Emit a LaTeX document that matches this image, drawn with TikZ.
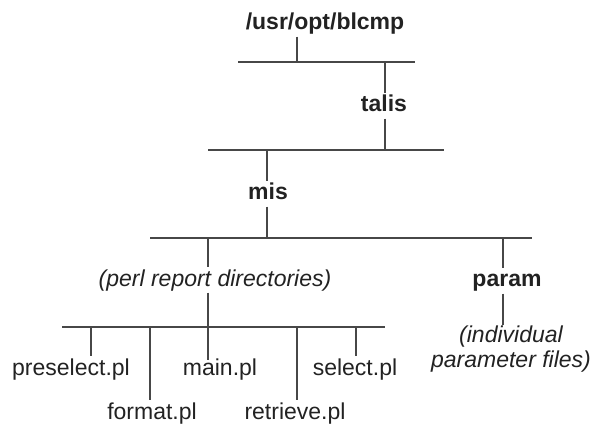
\documentclass[tikz,border=0pt]{standalone}
\usepackage{fontspec}
\setmainfont{Liberation Sans}
\usetikzlibrary{calc}
\definecolor{ctext}{HTML}{222222}
\definecolor{cline}{HTML}{474747}
\tikzset{
  every picture/.style={x=1pt, y=-1pt, line width=1.1pt},
  txt/.style={inner sep=0pt, text=ctext, font=\fontsize{23}{25}\selectfont},
  tag/.style={txt, anchor=base, text height=18pt, text depth=6pt},
  file/.style={tag},
  dirname/.style={tag, font=\fontsize{23}{25}\selectfont\bfseries},
  note/.style={tag, font=\fontsize{23}{25}\selectfont\itshape},
  bar/.style={draw=cline},
  link/.style={draw=cline},
}
\begin{document}
\begin{tikzpicture}
  \useasboundingbox (0,0) rectangle (595,425);
  % directories
  \node[dirname] (usr) at (325,30) {/usr/opt/blcmp};
  \node[dirname] (talis) at (384,112) {talis};
  \node[dirname] (mis) at (268,200) {mis};
  \node[note] (perl) at (215,286) {(perl report directories)};
  \node[dirname] (param) at (507,287) {param};
  \node[txt, font=\fontsize{23}{25}\selectfont\itshape, align=center, anchor=north] (pfiles) at (511,325)
    {(individual\\parameter files)};
  % perl files
  \node[file] (pre) at (71,375) {preselect.pl};
  \node[file] (fmt) at (152,419) {format.pl};
  \node[file, text height=14pt] (main) at (220,375) {main.pl};
  \node[file] (ret) at (295,419) {retrieve.pl};
  \node[file] (sel) at (355,375) {select.pl};
  % horizontal bars
  \foreach \n/\y/\l/\r in {b1/62/238/415, b2/150/208/444, b3/238/150/532, b4/327/62/385} {
    \coordinate (\n-w) at (\l,\y);
    \coordinate (\n-e) at (\r,\y);
    \draw[bar] (\n-w) -- (\n-e);
  }
  % junctions on the bars
  \coordinate (j1) at (297,62);
  \coordinate (j2) at (385,62);
  \coordinate (j3) at (385,150);
  \coordinate (j4) at (267,150);
  \coordinate (j5) at (267,238);
  \coordinate (j6) at (208,238);
  \coordinate (j7) at (208,327);
  \coordinate (j8) at (503,238);
  \draw[link] (j1 |- usr.south) -- (j1);
  \draw[link] (j2) -- (j2 |- talis.north);
  \draw[link] (j3 |- talis.south) -- (j3);
  \draw[link] (j4) -- (j4 |- mis.north);
  \draw[link] (j5 |- mis.south) -- (j5);
  \draw[link] (j6) -- (j6 |- perl.north);
  \draw[link] (j7 |- perl.south) -- (j7);
  \draw[link] (j8) -- (j8 |- param.north);
  \draw[link] (j8 |- param.south) -- (j8 |- pfiles.north);
  \foreach \f/\x in {pre/91, fmt/150, main/208, ret/297, sel/356} {
    \coordinate (k-\f) at (\x,327);
    \draw[link] (k-\f) -- (k-\f |- \f.north);
  }
\end{tikzpicture}
\end{document}
